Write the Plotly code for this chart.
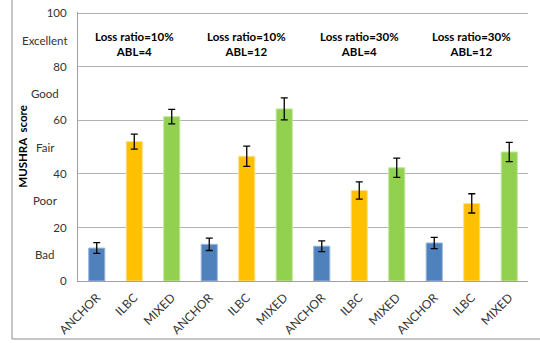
import plotly.graph_objects as go

# ---- data ----
systems = ["ANCHOR", "ILBC", "MIXED"]
conditions = ["Loss ratio=10%<br>ABL=4", "Loss ratio=10%<br>ABL=12",
              "Loss ratio=30%<br>ABL=4", "Loss ratio=30%<br>ABL=12"]
anchor_means = [12.3, 13.7, 13.0, 14.2]
anchor_err = [2.0, 2.3, 2.0, 2.1]
ilbc_means = [52.1, 46.6, 33.8, 29.0]
ilbc_err = [2.8, 3.8, 3.2, 3.6]
mixed_means = [61.4, 64.3, 42.3, 48.2]
mixed_err = [2.7, 4.1, 3.6, 3.6]
y_ticks = [0, 20, 40, 60, 80, 100]
quality_labels = ["Bad", "Poor", "Fair", "Good", "Excellent"]
quality_pos = [10, 30, 50, 70, 90]

colors = ["#4F81BD", "#FFC000", "#92D050"]
edge = ["#9ab6dc", "#ffe08a", "#c3e69c"]
series = [(anchor_means, anchor_err), (ilbc_means, ilbc_err), (mixed_means, mixed_err)]

FONT = "Lato"
fig = go.Figure()
ng = len(conditions)
ns = len(systems)
for si, (means, errs) in enumerate(series):
    xs = [g * ns + si for g in range(ng)]
    fig.add_trace(go.Bar(
        x=xs, y=means, width=0.43,
        marker=dict(color=colors[si], line=dict(color=edge[si], width=1)),
        error_y=dict(type="data", array=errs, visible=True, color="black",
                     thickness=1.3, width=3.5),
        showlegend=False,
    ))

tickvals = list(range(ng * ns))
ticktext = [systems[i % ns] for i in tickvals]

fig.update_layout(
    width=540, height=343,
    margin=dict(l=78, r=12, t=12, b=62, autoexpand=False),
    paper_bgcolor="white", plot_bgcolor="white",
    barmode="overlay",
    font=dict(family=FONT, size=11, color="#333333"),
    xaxis=dict(range=[-0.5, ng * ns - 0.5], tickvals=tickvals, ticktext=ticktext,
               tickangle=-45, showgrid=False, showline=True, linecolor="#a0a0a0",
               linewidth=1, ticks="", zeroline=False, automargin=False,
               ticklabelstandoff=4,
               tickfont=dict(family=FONT, size=12, color="#333333")),
    # range extends a hair past 100 so that the 100 grid line is drawn
    yaxis=dict(range=[0, 100.5], tickvals=y_ticks, showgrid=True,
               gridcolor="#b3b3b3", gridwidth=1, showline=True, linecolor="#a0a0a0",
               linewidth=1, zeroline=False, ticks="", ticklabelstandoff=8,
               automargin=False,
               tickfont=dict(family=FONT, size=11.5, color="#333333")),
)

# quality words on the y side
for lab, pos in zip(quality_labels, quality_pos):
    fig.add_annotation(text=lab, xref="paper", yref="y", x=-0.073, y=pos,
                       xanchor="center", yanchor="middle", showarrow=False,
                       font=dict(family=FONT, size=11.5, color="#333333"))

# axis title
fig.add_annotation(text="<b>MUSHRA  score</b>", xref="paper", yref="paper",
                   x=-0.124, y=0.5, textangle=-90, xanchor="center", yanchor="middle",
                   showarrow=False, font=dict(family=FONT, size=11.5, color="black"))

# condition headers
for g, cond in enumerate(conditions):
    fig.add_annotation(text="<b>" + cond + "</b>", xref="x", yref="y",
                       x=g * ns + 1, y=88.6, xanchor="center", yanchor="middle",
                       showarrow=False, align="center",
                       font=dict(family=FONT, size=11.5, color="black"))

# outer chart frame (left and bottom edges visible)
fig.add_shape(type="line", xref="paper", yref="paper", x0=-0.1467, x1=-0.1467,
              y0=-0.2156, y1=1.1, line=dict(color="#8c8c8c", width=1))
fig.add_shape(type="line", xref="paper", yref="paper", x0=-0.1467, x1=1.1,
              y0=-0.2156, y1=-0.2156, line=dict(color="#8c8c8c", width=1))

fig.write_html("out.html", config={"displayModeBar": False},
               post_script="document.body.style.margin='0px';")
